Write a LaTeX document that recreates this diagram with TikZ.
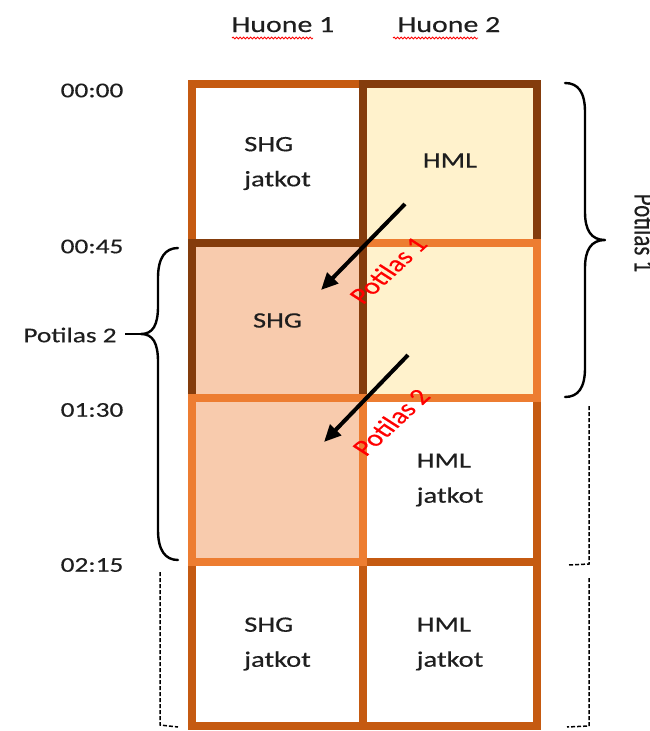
\documentclass[tikz,border=0pt]{standalone}
\usepackage{fontspec}
\setmainfont{Carlito}[FakeStretch=1.3,FakeBold=0.4]
\newfontfamily\narrowfont{Carlito}[FakeBold=0.4]
\usetikzlibrary{arrows.meta,decorations.pathmorphing}
\definecolor{dorange}{HTML}{C55A11}
\definecolor{dbrown}{HTML}{843C0C}
\definecolor{lorange}{HTML}{ED7D31}
\definecolor{peach}{HTML}{F8CBAD}
\definecolor{cream}{HTML}{FFF2CC}
\definecolor{txt}{HTML}{1E1E1E}
\begin{document}
\begin{tikzpicture}[x=1pt,y=-1pt,
  cell/.style={rectangle, draw, line width=7.5pt, inner sep=0pt, align=left,
    text=txt, font=\fontsize{22}{35}\selectfont},
  wide/.style={minimum width=174pt},
  narrow/.style={minimum width=171pt},
  timelbl/.style={text=txt, font=\fontsize{21}{25}\selectfont, inner sep=0pt},
  headlbl/.style={text=txt, font=\fontsize{23}{27}\selectfont, inner sep=0pt, anchor=base},
  redlbl/.style={text=red, inner sep=0pt, font=\fontsize{23}{27}\selectfont},
  pointer/.style={line width=4pt, -{Triangle[length=17pt,width=15pt]}},
  brace/.style={line width=2.4pt, line cap=round, line join=round},
  dashbrace/.style={line width=1.5pt, dash pattern=on 4pt off 2pt},
  spell/.style={red, line width=0.8pt, decorate,
    decoration={snake, amplitude=1pt, segment length=3.5pt}}]
\path[use as bounding box] (0,0) rectangle (649,731);

% schedule grid, drawn back to front so the right borders end up on top
\node[cell, narrow, minimum height=164pt, draw=dorange, fill=white] (c30) at (277.5,644) {SHG\\jatkot};
\node[cell, wide, minimum height=164pt, draw=dorange, fill=white] (c31) at (450,644) {HML\\jatkot};
\node[cell, wide, minimum height=164pt, draw=dorange, fill=white] (c21) at (450,480) {HML\\jatkot};
\node[cell, narrow, minimum height=159pt, draw=dorange, fill=white] (c00) at (277.5,163.5) {SHG\\jatkot};
\node[cell, wide, minimum height=159pt, draw=dbrown, fill=cream] (c01) at (450,163.5) {\raisebox{6pt}{HML}};
\node[cell, wide, minimum height=155pt, draw=lorange, fill=cream] (c11) at (450,320.5) {};
\node[cell, narrow, minimum height=155pt, draw=dbrown, fill=peach] (c10) at (277.5,320.5) {SHG};
\node[cell, narrow, minimum height=164pt, draw=lorange, fill=peach] (c20) at (277.5,480) {};

% room headings
\node[headlbl] (h1) at (283,32) {Huone 1};
\node[headlbl] (h2) at (449,32) {Huone 2};
\draw[spell] (232,38) -- (313,38);
\draw[spell] (393,38) -- (478,38);

% time axis
\node[timelbl] (t0) at (92,90.5) {00:00};
\node[timelbl] (t1) at (92,246.5) {00:45};
\node[timelbl] (t2) at (92,410) {01:30};
\node[timelbl] (t3) at (92,565) {02:15};

% patient 1 brace on the right
\draw[brace] (565,83) .. controls (578,83) and (585,92) .. (585,112)
  -- (585,212) .. controls (585,230) and (591,240) .. (605,240)
  .. controls (591,240) and (585,250) .. (585,268)
  -- (585,368) .. controls (585,388) and (578,397) .. (565,397);
\node[inner sep=0pt] (p1) at (645,233)
  {\scalebox{1.3}[1]{\rotatebox{-90}{\narrowfont\fontsize{23}{27}\selectfont\color{txt}Potilas 1}}};

% patient 2 brace on the left
\coordinate (p2tip) at (141,334);
\draw[brace] (178,248) .. controls (165,248) and (158,258) .. (158,278)
  -- (158,306) .. controls (158,325) and (153,334) .. (p2tip)
  .. controls (153,334) and (158,343) .. (158,362)
  -- (158,530) .. controls (158,550) and (165,560) .. (178,560);
\node[timelbl, inner xsep=0pt] (p2) at (70,335) {Potilas 2};
\draw[line width=2.4pt] (125,334) -- (p2tip);

% continuation brackets
\draw[dashbrace] (589,406) -- (589,564) -- (568,565);
\draw[dashbrace] (589,578) -- (589,726) -- (567,727);
\draw[dashbrace] (160,572) -- (160,725) -- (178,727);

% handovers between rooms
\coordinate (a1s) at (405,204);
\coordinate (a1e) at (321,290);
\coordinate (a2s) at (408,355);
\coordinate (a2e) at (324,442);
\draw[pointer] (a1s) -- (a1e);
\draw[pointer] (a2s) -- (a2e);
\node[redlbl] (l1) at (388,270) {\scalebox{1.3}[1]{\rotatebox{50}{\narrowfont Potilas 1}}};
\node[redlbl] (l2) at (391,422) {\scalebox{1.3}[1]{\rotatebox{50}{\narrowfont Potilas 2}}};
\end{tikzpicture}
\end{document}
